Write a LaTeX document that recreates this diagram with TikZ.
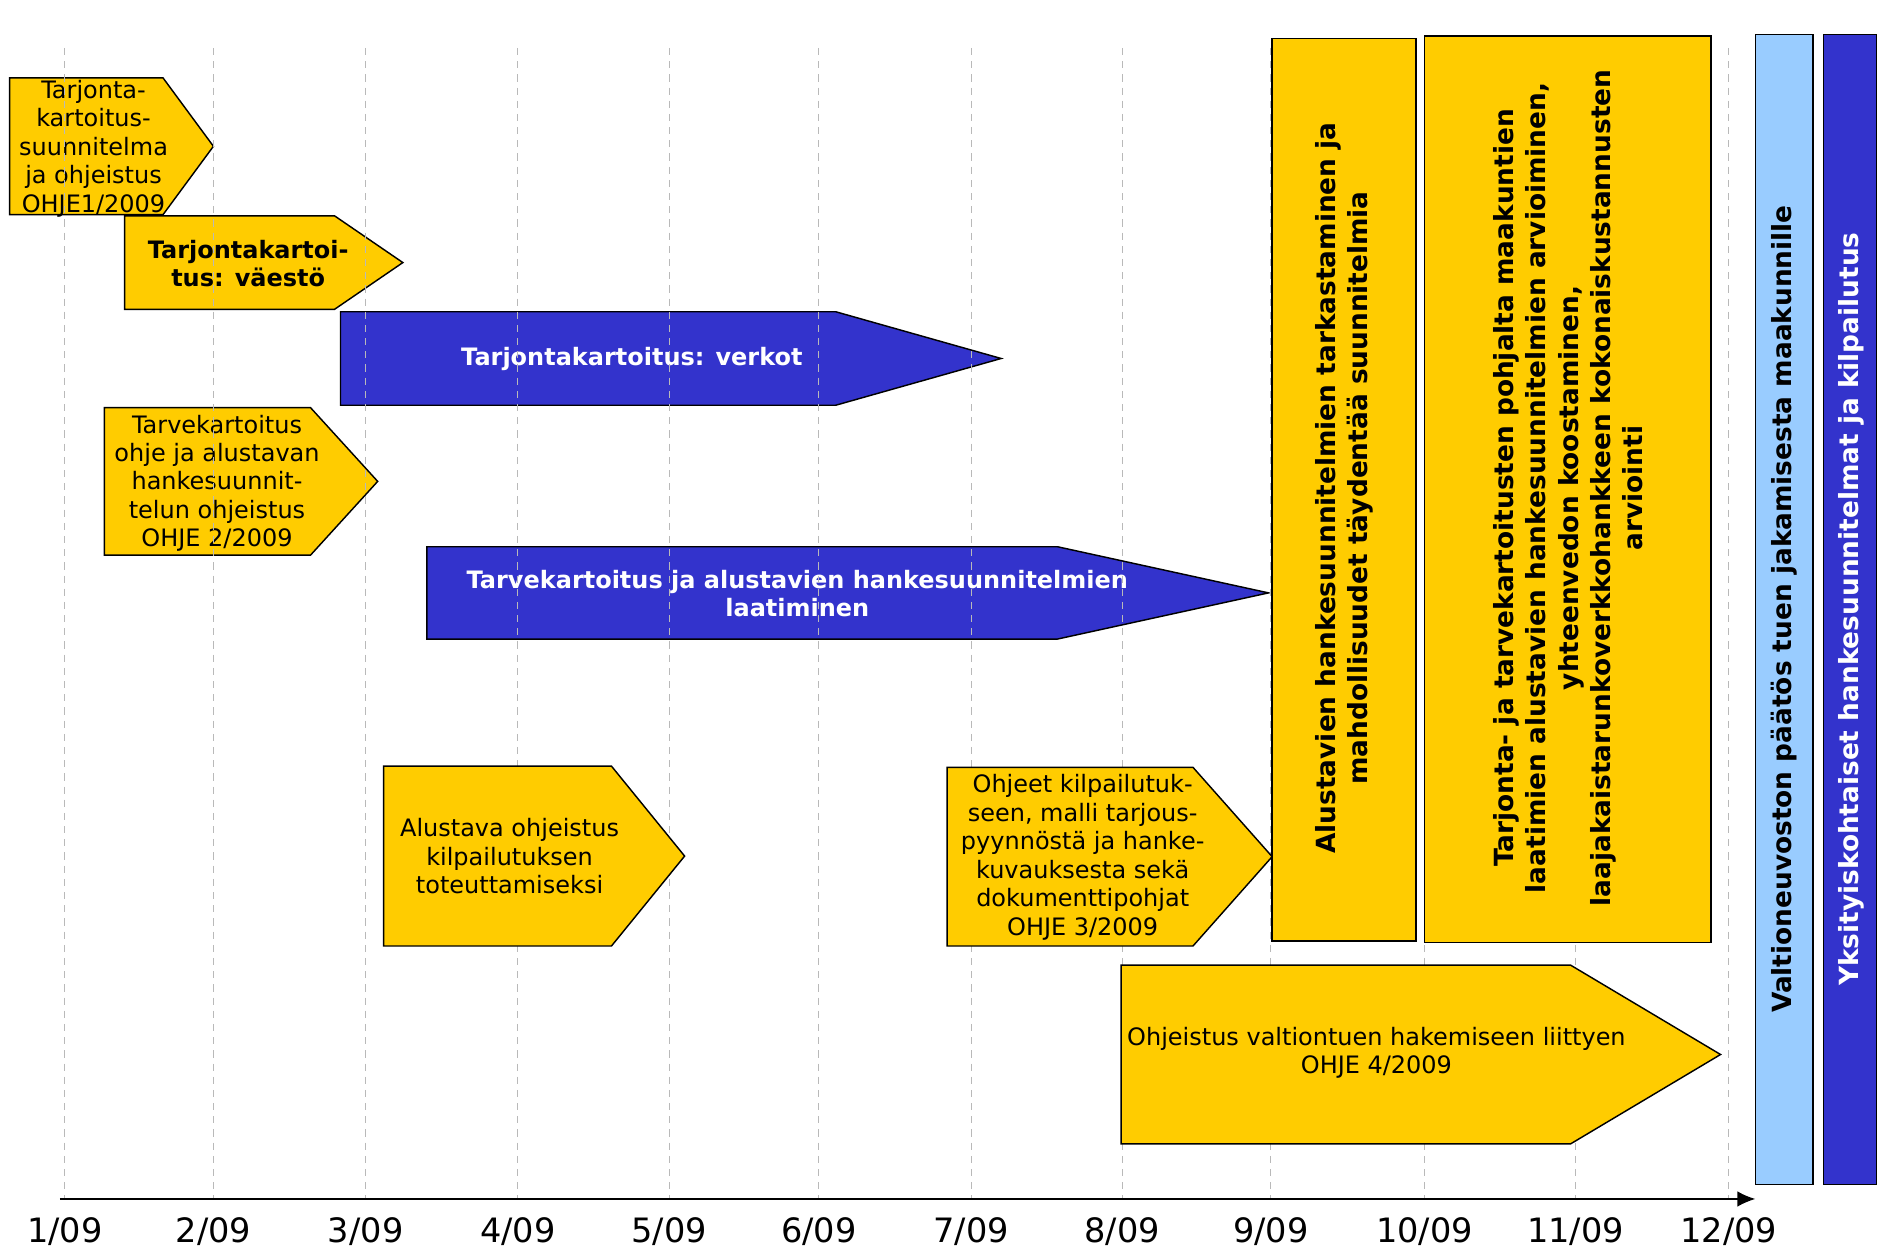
\documentclass[tikz,border=0pt]{standalone}
\usepackage{fontspec}
\setmainfont{DejaVu Sans}
\usepackage{xcolor}
\usepackage{tikz}
\usetikzlibrary{arrows.meta}

\definecolor{keltainen}{HTML}{FFCC00}
\definecolor{sininen}{HTML}{3333CC}
\definecolor{vaalea}{HTML}{99CCFF}

\tikzset{
  teksti/.style={align=center, inner sep=0pt, font=\fontsize{20}{23.7}\selectfont},
  lihava/.style={align=center, inner sep=0pt, font=\fontsize{20}{23.7}\selectfont\bfseries},
  pysty/.style={lihava, rotate=90, font=\fontsize{22}{26.8}\selectfont\bfseries},
  ruudukko/.style={gray!55, dashed, line width=0.8pt, dash pattern=on 6pt off 5pt}
}

\begin{document}
\begin{tikzpicture}[x=1pt, y=-1pt, line width=1.2pt]
				\useasboundingbox (0,0) rectangle (1568,1040);
				
				% arrows under the grid (left/top/body/tip/bottom/colour)
				\foreach \l/\t/\b/\k/\a/\c in
				{8/65/136/178/179/keltainen, 104/180/279/336/258/keltainen,
				 284/260/697/835/338/sininen, 87/340/259/315/463/keltainen,
				 356/456/882/1058/533/sininen}{
					\filldraw[fill=\c] (\l,\t) -- (\b,\t) -- (\k,{(\t+\a)/2}) -- (\b,\a) -- (\l,\a) -- cycle;
				}
				
				\node[teksti] (suunnitelma) at (78,124) {Tarjonta-\\kartoitus-\\suunnitelma\\ja ohjeistus\\OHJE1/2009};
				\node[lihava] (vaesto) at (207,220) {Tarjontakartoi-\\tus: väestö};
				\node[lihava, text=white] (verkot) at (527,299) {Tarjontakartoitus: verkot};
				\node[teksti] (ohje2) at (181,403) {Tarvekartoitus\\ohje ja alustavan\\hankesuunnit-\\telun ohjeistus\\OHJE 2/2009};
				\node[lihava, text=white] (laatiminen) at (665,495) {Tarvekartoitus ja alustavien hankesuunnitelmien\\laatiminen};
				
				% grid and months
				\foreach \x/\m in
				{54/1, 178/2, 305/3, 432/4, 558/5, 683/6, 810/7, 936/8, 1060/9, 1188/10, 1314/11, 1442/12}{
					\draw[ruudukko] (\x,40) -- (\x,1000);
					\node[font=\fontsize{28}{32}\selectfont] (kk\m) at (\x,1027) {\m/09};
				}
				\coordinate (alku) at (50,1000);
				\coordinate (loppu) at (1464,1000);
				\draw[-{Latex[length=15pt,width=13pt]}] (alku) -- (loppu);
				
				% arrows over the grid
				\foreach \l/\t/\b/\k/\a in
				{320/639/510/571/789, 790/640/995/1061/789, 935/805/1310/1435/954}{
					\filldraw[fill=keltainen] (\l,\t) -- (\b,\t) -- (\k,{(\t+\a)/2}) -- (\b,\a) -- (\l,\a) -- cycle;
				}
				\node[teksti] (alustava) at (425,714) {Alustava ohjeistus\\kilpailutuksen\\toteuttamiseksi};
				\node[teksti] (ohje3) at (903,715) {Ohjeet kilpailutuk-\\seen, malli tarjous-\\pyynnöstä ja hanke-\\kuvauksesta sekä\\dokumenttipohjat\\OHJE 3/2009};
				\node[teksti] (ohje4) at (1148,878) {Ohjeistus valtiontuen hakemiseen liittyen\\OHJE 4/2009};
				
				% tall boxes
				\filldraw[fill=keltainen] (1061,32) rectangle (1181,785);
				\filldraw[fill=keltainen] (1188,30) rectangle (1427,786);
				\filldraw[fill=vaalea] (1464,29) rectangle (1512,988);
				\filldraw[fill=sininen] (1521,29) rectangle (1565,988);
				
				\node[pysty] (tarkastus) at (1121,407) {Alustavien hankesuunnitelmien tarkastaminen ja\\mahdollisuudet täydentää suunnitelmia};
				\node[pysty] (arviointi) at (1308,407) {Tarjonta- ja tarvekartoitusten pohjalta maakuntien\\laatimien alustavien hankesuunnitelmien arvioiminen,\\yhteenvedon koostaminen,\\laajakaistarunkoverkkohankkeen kokonaiskustannusten\\arviointi};
				\node[pysty] (paatos) at (1488,508) {Valtioneuvoston päätös tuen jakamisesta maakunnille};
				\node[pysty, text=white] (kilpailutus) at (1544,508) {Yksityiskohtaiset hankesuunnitelmat ja kilpailutus};
\end{tikzpicture}
\end{document}
